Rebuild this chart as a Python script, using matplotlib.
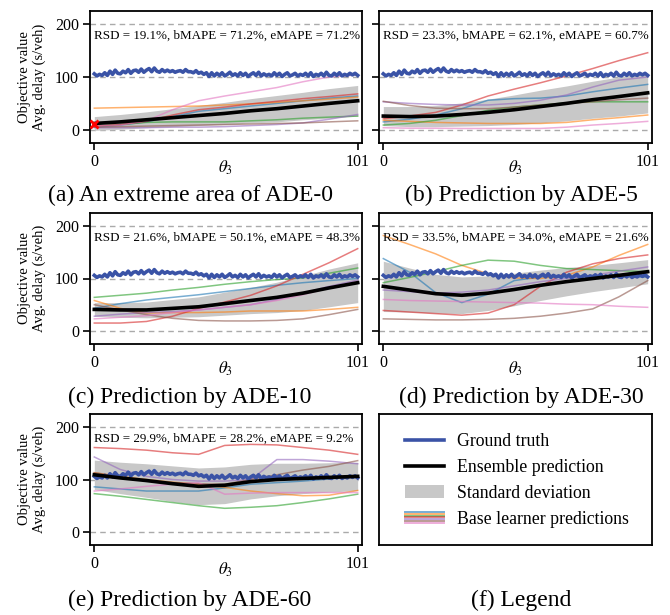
import matplotlib
matplotlib.use("Agg")
import matplotlib.pyplot as plt
import numpy as np
from matplotlib.lines import Line2D
from matplotlib.patches import Patch
from matplotlib.legend_handler import HandlerBase

plt.rcParams['font.family'] = ['Liberation Serif', 'DejaVu Serif']
plt.rcParams['mathtext.fontset'] = 'stix'

# ground truth, theta_3 = 0..101
gt = [106, 102, 105, 103, 108, 103, 111, 105, 113, 107, 106, 111, 108, 114, 107, 112, 113, 109, 115, 109,
      113, 116, 110, 117, 111, 109, 114, 110, 113, 110, 112, 109, 111, 112, 109, 114, 110, 110, 108, 112,
      107, 109, 105, 108, 101, 108, 102, 107, 103, 108, 102, 105, 109, 103, 106, 102, 108, 103, 107, 101,
      105, 108, 103, 109, 102, 106, 103, 105, 102, 108, 103, 107, 101, 105, 108, 102, 104, 107, 102, 105,
      103, 107, 102, 108, 101, 105, 103, 107, 102, 109, 103, 102, 107, 103, 108, 102, 105, 103, 107, 104,
      107, 103]
gt_x = list(range(len(gt)))

# sample points of the prediction curves
xs = [0, 10, 20, 30, 40, 50, 60, 70, 80, 90, 101]

# base learner colours (blue, orange, green, red, purple, brown, pink)
base_colors = ['#1f77b4', '#ff7f0e', '#2ca02c', '#d62728', '#9467bd', '#8c564b', '#e377c2']

# (a) ADE-0
base_a = [
    [5, 9, 15, 25, 35, 40, 45, 50, 55, 60, 64],
    [41, 42, 43, 44, 45, 47, 49, 52, 55, 58, 62],
    [6, 10, 14, 15, 15, 15, 17, 19, 22, 24, 26],
    [7, 10, 16, 28, 38, 43, 49, 54, 59, 63, 68],
    [4, 4, 4, 5, 5, 6, 8, 10, 13, 20, 29],
    [5, 6, 7, 8, 9, 10, 11, 12, 13, 15, 17],
    [7, 9, 17, 38, 55, 64, 72, 80, 91, 100, 104],
]
ens_a = [12, 15, 19, 23, 27, 31, 36, 40, 45, 50, 55]
std_a = [13, 14, 15, 17, 19, 21, 23, 25, 26, 28, 29]

# (b) ADE-5
base_b = [
    [15, 20, 28, 40, 56, 59, 60, 64, 72, 79, 86],
    [18, 16, 14, 13, 12, 12, 12, 14, 19, 23, 28],
    [9, 12, 18, 27, 37, 43, 47, 51, 53, 53, 53],
    [21, 26, 33, 47, 64, 77, 89, 102, 116, 131, 146],
    [53, 50, 48, 47, 47, 50, 56, 66, 81, 94, 100],
    [54, 46, 41, 40, 40, 43, 47, 50, 53, 57, 60],
    [4, 3, 3, 2.5, 2.5, 2.5, 2.5, 5, 9, 12, 16],
]
ens_b = [26, 25, 26, 29, 33, 38, 44, 50, 57, 63, 70]
std_b = [18, 19, 20, 22, 25, 28, 31, 33, 35, 37, 38]

# (c) ADE-10
base_c = [
    [43, 52, 59, 64, 69, 75, 81, 87, 92, 96, 100],
    [58, 43, 34, 35, 35, 36, 38, 38, 38, 41, 45],
    [64, 68, 72, 78, 83, 89, 94, 98, 101, 110, 120],
    [15, 15, 18, 28, 43, 55, 68, 86, 108, 130, 157],
    [28, 32, 35, 37, 40, 45, 50, 60, 72, 85, 97],
    [50, 40, 31, 24, 20, 19, 19, 20, 23, 31, 41],
    [23, 26, 29, 35, 40, 45, 50, 58, 69, 82, 94],
]
ens_c = [41, 40, 40, 43, 46, 52, 58, 64, 72, 82, 92]
std_c = [13, 14, 15, 17, 19, 22, 25, 29, 33, 36, 38]

# (d) ADE-30
base_d = [
    [138, 112, 73, 54, 70, 96, 103, 103, 103, 103, 103],
    [182, 165, 147, 125, 109, 101, 100, 106, 122, 144, 165],
    [92, 102, 113, 125, 135, 133, 125, 119, 117, 115, 113],
    [39, 36, 33, 30, 34, 50, 85, 112, 128, 138, 145],
    [78, 75, 72, 74, 78, 86, 94, 100, 106, 114, 122],
    [23, 22, 21, 21, 22, 24, 28, 34, 42, 65, 96],
    [60, 58, 57, 56, 55, 54, 53, 51, 50, 47, 45],
]
ens_d = [85, 78, 71, 68, 72, 79, 87, 94, 100, 106, 113]
std_d = [48, 42, 37, 35, 33, 31, 29, 27, 25, 24, 23]

# (e) ADE-60
base_e = [
    [86, 82, 78, 78, 78, 84, 91, 94, 97, 101, 106],
    [113, 106, 100, 95, 91, 85, 78, 73, 69, 70, 79],
    [73, 68, 62, 56, 50, 45, 47, 50, 56, 63, 72],
    [161, 159, 156, 151, 148, 165, 167, 166, 161, 156, 148],
    [143, 119, 106, 100, 97, 97, 100, 138, 138, 135, 130],
    [113, 105, 98, 94, 92, 91, 100, 109, 118, 125, 136],
    [78, 82, 87, 91, 94, 72, 74, 75, 75, 75, 75],
]
ens_e = [109, 103, 98, 92, 87, 89, 96, 100, 102, 104, 106]
std_e = [28, 30, 32, 34, 35, 35, 33, 31, 29, 28, 27]

metrics = [
    "RSD = 19.1%, bMAPE = 71.2%, eMAPE = 71.2%",
    "RSD = 23.3%, bMAPE = 62.1%, eMAPE = 60.7%",
    "RSD = 21.6%, bMAPE = 50.1%, eMAPE = 48.3%",
    "RSD = 33.5%, bMAPE = 34.0%, eMAPE = 21.6%",
    "RSD = 29.9%, bMAPE = 28.2%, eMAPE = 9.2%",
]
captions = [
    "(a) An extreme area of ADE-0",
    "(b) Prediction by ADE-5",
    "(c) Prediction by ADE-10",
    "(d) Prediction by ADE-30",
    "(e) Prediction by ADE-60",
    "(f) Legend",
]

gt_color = '#3a53a6'

fig = plt.figure(figsize=(6.7, 6.15), dpi=100)

W, H = 670.0, 615.0
cols = [(90, 362), (379, 652)]
rows = [(11, 143), (213, 344), (414, 545)]
cap_x = [190, 521]
cap_y = [195, 397, 600]


def make_ax(r, c):
    x0, x1 = cols[c]
    y0, y1 = rows[r]
    return fig.add_axes([x0 / W, 1 - y1 / H, (x1 - x0) / W, (y1 - y0) / H])


panels = [(base_a, ens_a, std_a), (base_b, ens_b, std_b), (base_c, ens_c, std_c),
          (base_d, ens_d, std_d), (base_e, ens_e, std_e)]

for i, (base, ens, std) in enumerate(panels):
    r, c = i // 2, i % 2
    ax = make_ax(r, c)
    for yv in [0, 100, 200]:
        ax.axhline(yv, color='#aaaaaa', lw=1.0, ls=(0, (4, 3)), zorder=0)
    ens = np.array(ens)
    std = np.array(std)
    ax.fill_between(xs, ens - std, ens + std, color='#c8c8c8', lw=0, zorder=1)
    for vals, col in zip(base, base_colors):
        ax.plot(xs, vals, color=col, lw=1.1, alpha=0.6, zorder=2)
    ax.plot(gt_x, gt, color=gt_color, lw=2.6, zorder=3)
    ax.plot(xs, ens, color='black', lw=2.6, zorder=4)
    if i == 0:
        ax.plot([0], [11], marker='x', color='red', ms=6, mew=2, zorder=5)
    ax.set_xlim(-1.65, 102.65)
    ax.set_ylim(-25, 225)
    ax.set_xticks([0, 101])
    ax.set_yticks([0, 100, 200])
    ax.tick_params(direction='out', length=5, width=1.2, labelsize=11.5, pad=3)
    if c == 1:
        ax.set_yticklabels([])
    else:
        ax.set_ylabel("Objective value\nAvg. delay (s/veh)", fontsize=10.5,
                      linespacing=1.15, va='center')
        ax.yaxis.set_label_coords(-0.215, 0.5)
    ax.set_xlabel(r"$\theta_3$", fontsize=12, va='center')
    ax.xaxis.set_label_coords(0.5, -0.19)
    for s in ax.spines.values():
        s.set_linewidth(1.3)
    ax.text(0.015, 0.81, metrics[i], transform=ax.transAxes, fontsize=9.4,
            ha='left', va='center')


class StripeHandler(HandlerBase):
    def create_artists(self, legend, orig_handle, xdescent, ydescent,
                       width, height, fontsize, trans):
        arts = []
        n = len(orig_handle)
        for k, h in enumerate(orig_handle):
            y = -ydescent + height * (n - k - 0.5) / n
            ln = Line2D([-xdescent, -xdescent + width], [y, y], color=h.get_color(),
                        lw=1.4, alpha=0.6, transform=trans)
            arts.append(ln)
        return arts


# legend panel
lax = make_ax(2, 1)
lax.set_xticks([])
lax.set_yticks([])
for s in lax.spines.values():
    s.set_linewidth(1.3)
stripes = tuple(Line2D([], [], color=col) for col in base_colors)
handles = [Line2D([], [], color=gt_color, lw=2.6),
           Line2D([], [], color='black', lw=2.6),
           Patch(facecolor='#c8c8c8', edgecolor='none'),
           stripes]
labels = ["Ground truth", "Ensemble prediction", "Standard deviation",
          "Base learner predictions"]
lax.legend(handles, labels, handler_map={tuple: StripeHandler()}, frameon=False,
           loc='upper left', bbox_to_anchor=(0.07, 0.91), fontsize=12.8,
           handlelength=2.2, handletextpad=0.7, labelspacing=0.5,
           borderaxespad=0)

for i, cap in enumerate(captions):
    r, c = i // 2, i % 2
    fig.text(cap_x[c] / W, 1 - cap_y[r] / H, cap, fontsize=17, ha='center', va='center')

fig.savefig("out.png", dpi=100)
